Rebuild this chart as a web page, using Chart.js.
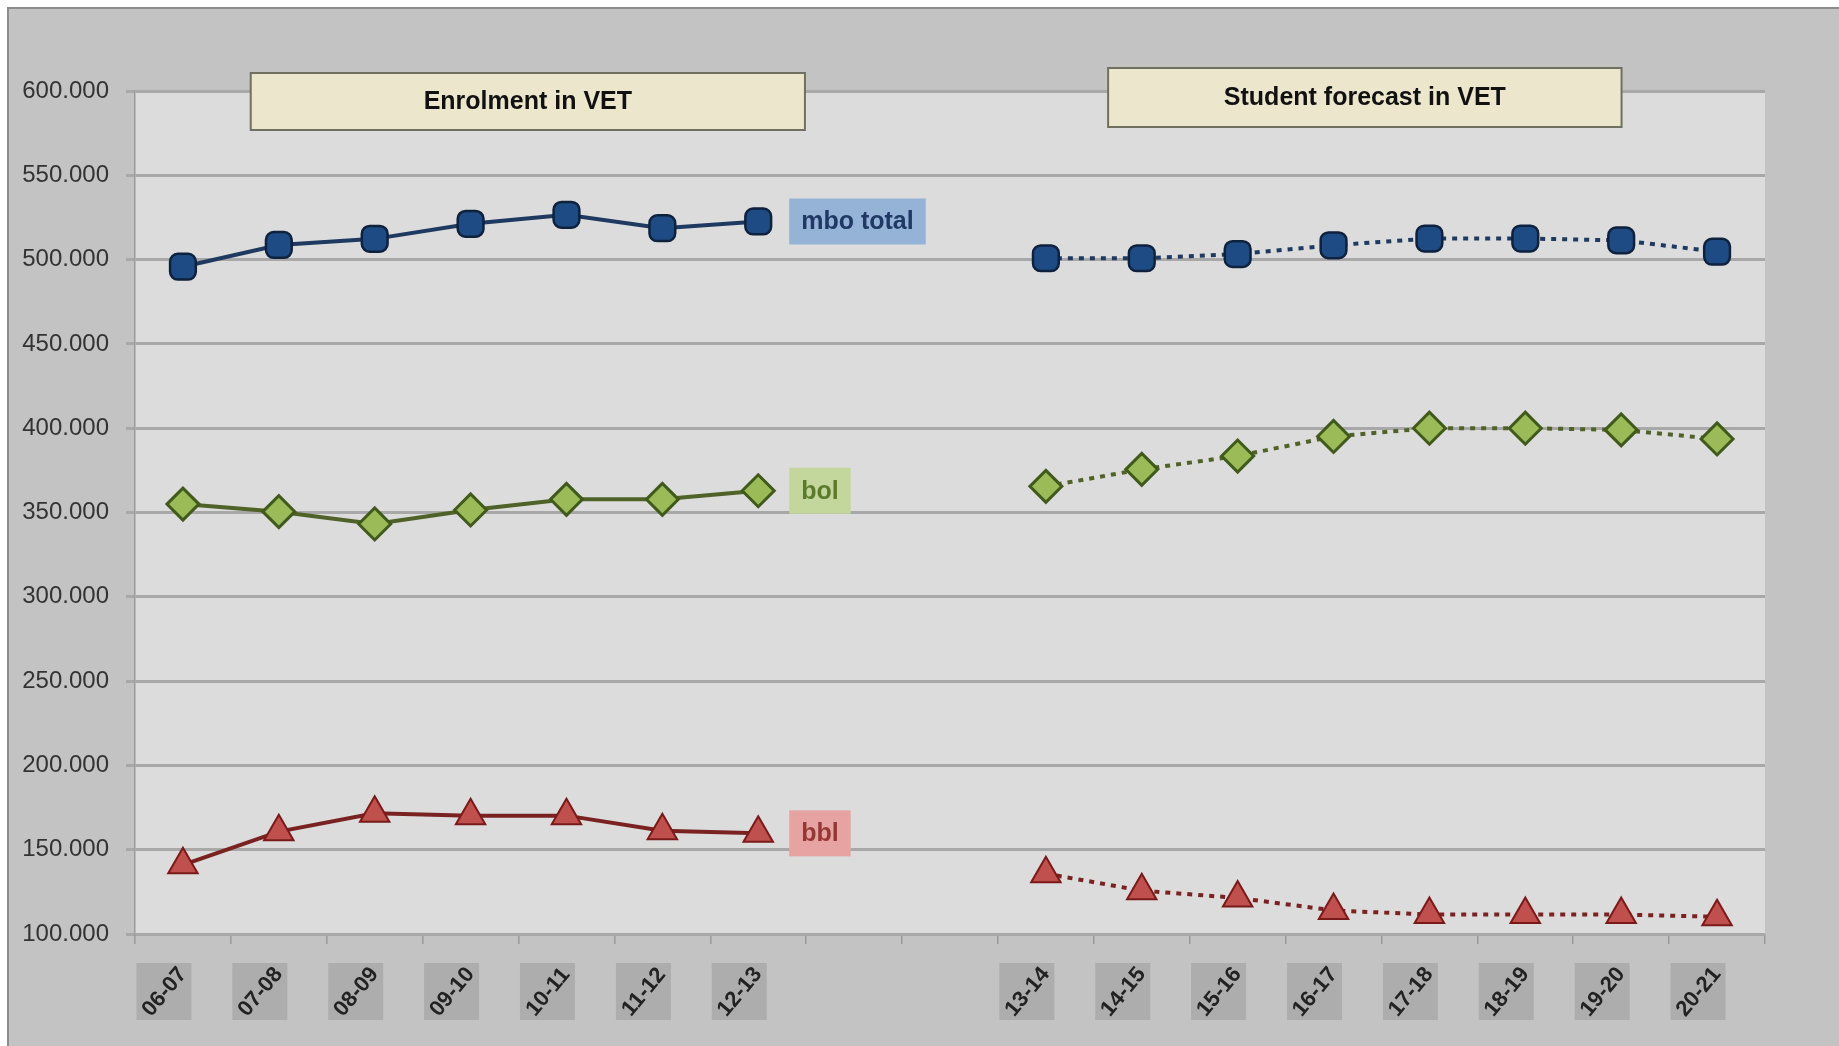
<!DOCTYPE html>
<html>
<head>
<meta charset="utf-8">
<title>Enrolment and student forecast in VET</title>
<script src="https://cdn.jsdelivr.net/npm/chart.js@4.4.1/dist/chart.umd.min.js"></script>
<style>
  html, body { margin: 0; padding: 0; background: #ffffff; }
  #wrap { width: 1839px; height: 1046px; }
</style>
</head>
<body>
<div id="wrap"><canvas id="vetChart" width="1839" height="1046"></canvas></div>
<script>
// school years: realised enrolment, two empty slots, then the forecast
const histYears = ['06-07', '07-08', '08-09', '09-10', '10-11', '11-12', '12-13'];
const gapYears = ['', ''];
const forecastYears = ['13-14', '14-15', '15-16', '16-17', '17-18', '18-19', '19-20', '20-21'];

// values (number of students)
const mboHist = [495800, 508700, 512300, 521200, 526600, 518600, 522600];
const mboForecast = [500800, 500800, 503300, 508500, 512500, 512500, 511400, 504700];
const bolHist = [355000, 350500, 343200, 351500, 357800, 357800, 362900];
const bolForecast = [365500, 375600, 383500, 395100, 400000, 400000, 399000, 393600];
const bblHist = [141000, 160700, 171600, 170200, 170200, 161300, 159700];
const bblForecast = [135800, 125700, 121400, 114000, 111500, 111500, 111500, 110200];

// y axis ticks
const yMin = 100000;
const yMax = 600000;
const yStep = 50000;

const labels = [...histYears, ...gapYears, ...forecastYears];
const firstForecast = histYears.length + gapYears.length;
const joinSeries = (hist, fc) => [...hist, ...gapYears.map(() => null), ...fc];

const fontMain = '"Liberation Sans", Arial, sans-serif';

// dotted line for the forecast part
const forecastDash = (ctx) => ctx.p0DataIndex >= firstForecast ? [5, 6] : undefined;

// background: outer grey frame and the light plot area
const backgroundPlugin = {
    id: 'backgroundPlugin',
    beforeDraw(chart) {
        const { ctx, chartArea: a, width, height } = chart;
        ctx.save();
        ctx.fillStyle = '#ffffff';
        ctx.fillRect(0, 0, width, height);
        ctx.fillStyle = '#c3c3c3';
        ctx.fillRect(8, 8, width - 8, height - 8);
        ctx.strokeStyle = '#8c8c8c';
        ctx.lineWidth = 2;
        ctx.beginPath();
        ctx.moveTo(8, height);
        ctx.lineTo(8, 8);
        ctx.lineTo(width, 8);
        ctx.stroke();
        ctx.fillStyle = '#dcdcdc';
        ctx.fillRect(a.left, a.top, a.right - a.left, a.bottom - a.top);
        ctx.restore();
    }
};

// x labels: grey boxes with rotated text
const xLabelPlugin = {
    id: 'xLabelPlugin',
    afterDraw(chart) {
        const { ctx, chartArea: a } = chart;
        const xs = chart.scales.x;
        ctx.save();
        labels.forEach((lab, i) => {
            if (!lab) return;
            const cx = xs.getPixelForTick(i) - 19;
            const top = a.bottom + 29;
            const h = 57, w = 55;
            ctx.fillStyle = '#adadad';
            ctx.fillRect(cx - w / 2, top, w, h);
            ctx.save();
            ctx.translate(cx, top + h / 2);
            ctx.rotate(-50 * Math.PI / 180);
            ctx.fillStyle = '#222222';
            ctx.font = 'bold 22px ' + fontMain;
            ctx.textAlign = 'center';
            ctx.textBaseline = 'middle';
            ctx.fillText(lab, 0, 1);
            ctx.restore();
        });
        ctx.restore();
    }
};

// the two beige title boxes
const titleBoxes = [
    { text: 'Enrolment in VET', from: 0.071, to: 0.411, top: 73, bottom: 130 },
    { text: 'Student forecast in VET', from: 0.597, to: 0.912, top: 68, bottom: 127 }
];

const titlePlugin = {
    id: 'titlePlugin',
    afterDraw(chart) {
        const { ctx, chartArea: a } = chart;
        const w = a.right - a.left;
        ctx.save();
        titleBoxes.forEach((b) => {
            const x0 = a.left + b.from * w;
            const x1 = a.left + b.to * w;
            ctx.fillStyle = '#ece7cc';
            ctx.fillRect(x0, b.top, x1 - x0, b.bottom - b.top);
            ctx.strokeStyle = '#707060';
            ctx.lineWidth = 2;
            ctx.strokeRect(x0, b.top, x1 - x0, b.bottom - b.top);
            ctx.fillStyle = '#111111';
            ctx.font = 'bold 25px ' + fontMain;
            ctx.textAlign = 'center';
            ctx.textBaseline = 'middle';
            ctx.fillText(b.text, (x0 + x1) / 2, (b.top + b.bottom) / 2 + 1);
        });
        ctx.restore();
    }
};

// coloured name tags next to the last realised point of each series
const seriesTags = [
    { text: 'mbo total', fill: '#95b3d7', color: '#1f3864' },
    { text: 'bol', fill: '#c3d69b', color: '#5b7a2a' },
    { text: 'bbl', fill: '#e6a3a2', color: '#953735' }
];

const tagPlugin = {
    id: 'tagPlugin',
    afterDatasetsDraw(chart) {
        const { ctx } = chart;
        ctx.save();
        ctx.font = 'bold 25px ' + fontMain;
        seriesTags.forEach((t, di) => {
            const pt = chart.getDatasetMeta(di).data[histYears.length - 1];
            const tw = ctx.measureText(t.text).width;
            const x0 = pt.x + 31;
            const h = 46;
            ctx.fillStyle = t.fill;
            ctx.fillRect(x0, pt.y - h / 2, tw + 24, h);
            ctx.fillStyle = t.color;
            ctx.textAlign = 'left';
            ctx.textBaseline = 'middle';
            ctx.fillText(t.text, x0 + 12, pt.y + 1);
        });
        ctx.restore();
    }
};

const ctxVet = document.getElementById('vetChart').getContext('2d');

new Chart(ctxVet, {
    type: 'line',
    data: {
        labels: labels,
        datasets: [
            {
                label: 'mbo total',
                data: joinSeries(mboHist, mboForecast),
                borderColor: '#1f3a60',
                borderWidth: 4,
                pointStyle: 'rectRounded',
                pointRadius: 15,
                pointBackgroundColor: '#1f4b85',
                pointBorderColor: '#0e213d',
                pointBorderWidth: 2.5,
                segment: { borderDash: forecastDash }
            },
            {
                label: 'bol',
                data: joinSeries(bolHist, bolForecast),
                borderColor: '#4f6228',
                borderWidth: 4,
                pointStyle: 'rectRot',
                pointRadius: 16,
                pointBackgroundColor: '#9bbb59',
                pointBorderColor: '#3f5a1a',
                pointBorderWidth: 3,
                segment: { borderDash: forecastDash }
            },
            {
                label: 'bbl',
                data: joinSeries(bblHist, bblForecast),
                borderColor: '#7a2222',
                borderWidth: 4,
                pointStyle: 'triangle',
                pointRadius: 17,
                pointBackgroundColor: '#c0504d',
                pointBorderColor: '#7a1a18',
                pointBorderWidth: 2,
                segment: { borderDash: forecastDash }
            }
        ]
    },
    options: {
        responsive: false,
        animation: false,
        devicePixelRatio: 1,
        spanGaps: false,
        layout: { padding: { left: 0, right: 74, top: 91, bottom: 0 } },
        plugins: {
            legend: { display: false },
            tooltip: { enabled: false }
        },
        scales: {
            x: {
                type: 'category',
                offset: true,
                afterFit: (scale) => { scale.height = 112; },
                grid: {
                    offset: true,
                    drawOnChartArea: false,
                    drawTicks: true,
                    tickLength: 10,
                    color: '#9a9a9a',
                    lineWidth: 1.5
                },
                border: { display: false },
                ticks: { display: false }
            },
            y: {
                min: yMin,
                max: yMax,
                afterFit: (scale) => { scale.width = 135; },
                grid: {
                    color: '#a8a8a8',
                    lineWidth: 3,
                    tickLength: 9
                },
                border: { display: true, color: '#9a9a9a', width: 1.5 },
                ticks: {
                    stepSize: yStep,
                    padding: 17,
                    color: '#333333',
                    font: { family: fontMain, size: 24 },
                    callback: (v) => String(v).replace(/\B(?=(\d{3})+(?!\d))/g, '.')
                }
            }
        }
    },
    plugins: [backgroundPlugin, xLabelPlugin, titlePlugin, tagPlugin]
});
</script>
</body>
</html>
